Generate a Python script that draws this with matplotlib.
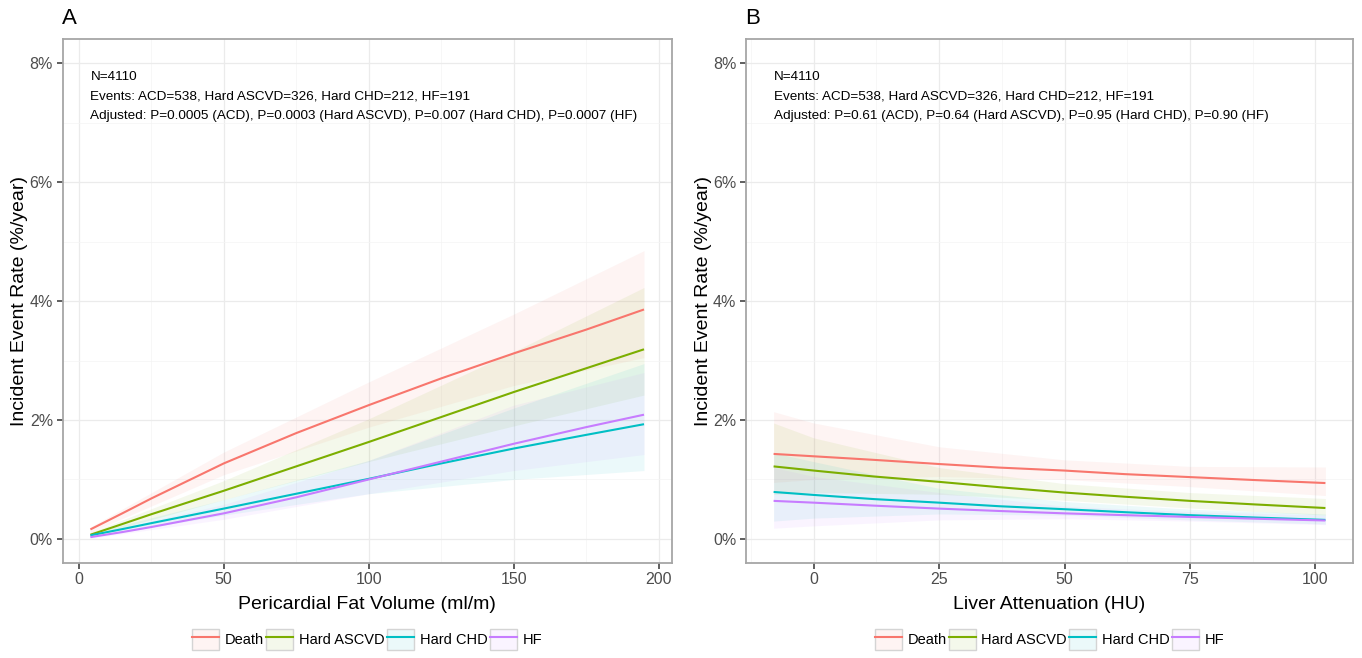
import numpy as np
import matplotlib.pyplot as plt
from matplotlib.colors import to_rgb
from matplotlib.patches import Patch
from matplotlib.lines import Line2D

plt.rcParams['font.family'] = ['Liberation Sans', 'DejaVu Sans']

SERIES = ['Death', 'Hard ASCVD', 'Hard CHD', 'HF']
COLORS = ['#F8766D', '#7CAE00', '#00BFC4', '#C77CFF']

# Panel A: pericardial fat volume (ml/m) vs event rate (%/year)
fat_x = [4, 15, 25, 50, 75, 100, 125, 150, 175, 195]
fat_death = [0.16, 0.43, 0.68, 1.27, 1.78, 2.25, 2.70, 3.12, 3.52, 3.86]
fat_ascvd = [0.07, 0.25, 0.415, 0.81, 1.22, 1.63, 2.05, 2.47, 2.87, 3.19]
fat_chd = [0.06, 0.165, 0.265, 0.51, 0.76, 1.01, 1.27, 1.52, 1.75, 1.93]
fat_hf = [0.03, 0.115, 0.20, 0.43, 0.70, 1.00, 1.30, 1.60, 1.88, 2.09]

fat_band_x = [4, 50, 100, 150, 195]
fat_death_lo = [0.11, 1.08, 1.88, 2.58, 3.05]
fat_death_hi = [0.20, 1.46, 2.64, 3.78, 4.85]
fat_ascvd_lo = [0.04, 0.66, 1.30, 1.90, 2.42]
fat_ascvd_hi = [0.11, 0.98, 2.02, 3.15, 4.23]
fat_chd_lo = [0.03, 0.40, 0.76, 1.00, 1.15]
fat_chd_hi = [0.10, 0.66, 1.32, 2.20, 2.95]
fat_hf_lo = [0.01, 0.33, 0.76, 1.15, 1.42]
fat_hf_hi = [0.07, 0.58, 1.32, 2.25, 2.80]

# Panel B: liver attenuation (HU) vs event rate (%/year)
liver_x = [-8, 0, 12, 25, 37, 50, 62, 75, 88, 102]
liver_death = [1.43, 1.39, 1.33, 1.26, 1.20, 1.15, 1.09, 1.04, 0.99, 0.94]
liver_ascvd = [1.22, 1.15, 1.05, 0.96, 0.87, 0.78, 0.71, 0.64, 0.58, 0.52]
liver_chd = [0.79, 0.74, 0.67, 0.61, 0.55, 0.50, 0.45, 0.40, 0.36, 0.32]
liver_hf = [0.64, 0.61, 0.56, 0.51, 0.47, 0.43, 0.40, 0.37, 0.34, 0.31]

liver_band_x = [-8, 0, 25, 50, 75, 102]
liver_death_lo = [0.95, 1.00, 1.05, 1.00, 0.88, 0.73]
liver_death_hi = [2.14, 1.95, 1.55, 1.33, 1.22, 1.21]
liver_ascvd_lo = [0.75, 0.78, 0.75, 0.65, 0.52, 0.40]
liver_ascvd_hi = [1.95, 1.70, 1.20, 0.93, 0.78, 0.68]
liver_chd_lo = [0.30, 0.35, 0.42, 0.40, 0.32, 0.25]
liver_chd_hi = [1.45, 1.30, 0.85, 0.63, 0.50, 0.42]
liver_hf_lo = [0.18, 0.22, 0.32, 0.34, 0.30, 0.24]
liver_hf_hi = [1.20, 1.05, 0.78, 0.55, 0.46, 0.40]

fat_text = ('N=4110\n'
            'Events: ACD=538, Hard ASCVD=326, Hard CHD=212, HF=191\n'
            'Adjusted: P=0.0005 (ACD), P=0.0003 (Hard ASCVD), P=0.007 (Hard CHD), P=0.0007 (HF)')
liver_text = ('N=4110\n'
              'Events: ACD=538, Hard ASCVD=326, Hard CHD=212, HF=191\n'
              'Adjusted: P=0.61 (ACD), P=0.64 (Hard ASCVD), P=0.95 (Hard CHD), P=0.90 (HF)')

BAND_ALPHA = 0.08


def style_axis(ax, xticks, xminor, xlim):
    ax.set_xlim(*xlim)
    ax.set_ylim(-0.4, 8.41)
    ax.set_xticks(xticks)
    ax.set_xticks(xminor, minor=True)
    ax.set_yticks([0, 2, 4, 6, 8])
    ax.set_yticks([1, 3, 5, 7], minor=True)
    ax.set_yticklabels(['0%', '2%', '4%', '6%', '8%'])
    ax.grid(which='major', color='#ebebeb', lw=0.9)
    ax.grid(which='minor', color='#f4f4f4', lw=0.5)
    ax.set_axisbelow(True)
    for sp in ax.spines.values():
        sp.set_color('#a6a6a6')
        sp.set_linewidth(1.3)
    ax.tick_params(which='major', length=4, width=1.1, color='#333333',
                   labelsize=11.5, labelcolor='#4d4d4d', pad=3)
    ax.tick_params(which='minor', length=0)
    ax.set_ylabel('Incident Event Rate (%/year)', fontsize=14, labelpad=1)


def draw_panel(ax, x, lines, band_x, bands):
    for (lo, hi), c in zip(bands, COLORS):
        ax.fill_between(band_x, lo, hi, color=c, alpha=BAND_ALPHA, lw=0)
    for y, c in zip(lines, COLORS):
        ax.plot(x, y, color=c, lw=1.5, solid_capstyle='butt')


def add_legend(ax):
    handles = [(Patch(facecolor=(*to_rgb(c), 0.08), edgecolor='#d4d4d4', lw=1.0),
                Line2D([], [], color=c, lw=1.5)) for c in COLORS]
    ax.legend(handles, SERIES, loc='center', bbox_to_anchor=(0.5, -0.147),
              ncol=4, frameon=False, fontsize=10.5, handlelength=1.85,
              handleheight=1.9, handletextpad=0.4, columnspacing=0.15,
              borderaxespad=0, borderpad=0)


fig = plt.figure(figsize=(13.62, 6.58), dpi=100)
ax_a = fig.add_axes([62.7 / 1362, 1 - 562.7 / 658, 609 / 1362, 523.7 / 658])
ax_b = fig.add_axes([746 / 1362, 1 - 562.7 / 658, 607 / 1362, 523.7 / 658])

draw_panel(ax_a, fat_x, [fat_death, fat_ascvd, fat_chd, fat_hf], fat_band_x,
           [(fat_death_lo, fat_death_hi), (fat_ascvd_lo, fat_ascvd_hi),
            (fat_chd_lo, fat_chd_hi), (fat_hf_lo, fat_hf_hi)])
style_axis(ax_a, [0, 50, 100, 150, 200], [25, 75, 125, 175], (-5.55, 204.55))
ax_a.set_xlabel('Pericardial Fat Volume (ml/m)', fontsize=14, labelpad=6)
ax_a.text(4, 7.87, fat_text, fontsize=9.7, va='top', ha='left', linespacing=1.82)
add_legend(ax_a)

draw_panel(ax_b, liver_x, [liver_death, liver_ascvd, liver_chd, liver_hf], liver_band_x,
           [(liver_death_lo, liver_death_hi), (liver_ascvd_lo, liver_ascvd_hi),
            (liver_chd_lo, liver_chd_hi), (liver_hf_lo, liver_hf_hi)])
style_axis(ax_b, [0, 25, 50, 75, 100], [-12.5, 12.5, 37.5, 62.5, 87.5], (-13.5, 107.5))
ax_b.set_xlabel('Liver Attenuation (HU)', fontsize=14, labelpad=6)
ax_b.text(-8, 7.87, liver_text, fontsize=9.7, va='top', ha='left', linespacing=1.82)
add_legend(ax_b)

fig.text(62 / 1362, 1 - 18 / 658, 'A', fontsize=16, va='center', ha='left')
fig.text(745 / 1362, 1 - 18 / 658, 'B', fontsize=16, va='center', ha='left')

fig.savefig('out.png', dpi=100)
